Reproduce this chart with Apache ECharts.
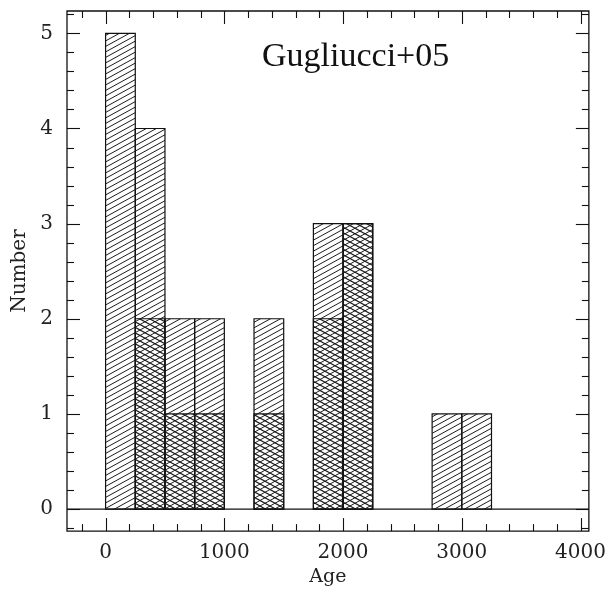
<!DOCTYPE html>
<html>
<head>
<meta charset="utf-8">
<script src="https://cdn.jsdelivr.net/npm/echarts@6/dist/echarts.min.js"></script>
<style>
  html, body { margin: 0; padding: 0; background: #fff; }
  #chart { width: 609px; height: 592px; }
</style>
</head>
<body>
<div id="chart"></div>
<script>
// Age histogram: all objects (single hatch) and subset (cross hatch)
const binStart = [0, 250, 500, 750, 1000, 1250, 1500, 1750, 2000, 2250, 2500, 2750, 3000];
const binWidth = 250;
const allCounts = [5, 4, 2, 2, 0, 2, 0, 3, 3, 0, 0, 1, 1];
const subsetCounts = [0, 2, 1, 1, 0, 1, 0, 2, 3, 0, 0, 0, 0];

// Tick values
const xTickMajor = [0, 1000, 2000, 3000, 4000];
const xTickMinor = [-200, 200, 400, 600, 800, 1200, 1400, 1600, 1800, 2200, 2400, 2600, 2800, 3200, 3400, 3600, 3800];
const yTickMajor = [0, 1, 2, 3, 4, 5];
const yTickMinor = [-0.2, 0.2, 0.4, 0.6, 0.8, 1.2, 1.4, 1.6, 1.8, 2.2, 2.4, 2.6, 2.8, 3.2, 3.4, 3.6, 3.8, 4.2, 4.4, 4.6, 4.8, 5.2];

const xRange = [-325, 4070];
const yRange = [-0.232, 5.235];

// Diagonal line tile; dir = 1 for "/" lines, -1 for "\" lines
function hatchTile(dir, width) {
  const w = 20, h = 11;
  const c = document.createElement('canvas');
  c.width = w; c.height = h;
  const g = c.getContext('2d');
  g.strokeStyle = '#1c1c1c';
  g.lineWidth = width;
  for (let k = -3; k <= 3; k++) {
    g.beginPath();
    if (dir > 0) {
      g.moveTo(-w, 2 * h + k * h / 2);
      g.lineTo(2 * w, -h + k * h / 2);
    } else {
      g.moveTo(-w, -h + k * h / 2);
      g.lineTo(2 * w, 2 * h + k * h / 2);
    }
    g.stroke();
  }
  return { image: c, repeat: 'repeat' };
}
const hatchUp = hatchTile(1, 1.0);
const hatchDown = hatchTile(-1, 1.15);

function barData(counts) {
  const out = [];
  counts.forEach((n, i) => {
    if (n > 0) out.push([binStart[i], binStart[i] + binWidth, n]);
  });
  return out;
}

function barRenderer(pattern) {
  return function (params, api) {
    const p0 = api.coord([api.value(0), api.value(2)]);
    const p1 = api.coord([api.value(1), 0]);
    return {
      type: 'rect',
      shape: { x: p0[0], y: p0[1], width: p1[0] - p0[0], height: p1[1] - p0[1] },
      style: { fill: pattern, stroke: '#111', lineWidth: 1.2 }
    };
  };
}

function tickRenderer(axis, len) {
  return function (params, api) {
    const cs = params.coordSys;
    const v = api.value(0);
    const st = { stroke: '#111', lineWidth: 1.1 };
    if (axis === 'x') {
      const px = Math.round(api.coord([v, 0])[0]) + 0.5;
      const b = cs.y + cs.height, t = cs.y;
      return { type: 'group', children: [
        { type: 'line', shape: { x1: px, y1: b, x2: px, y2: b - len }, style: st },
        { type: 'line', shape: { x1: px, y1: t, x2: px, y2: t + len }, style: st }
      ]};
    } else {
      const py = Math.round(api.coord([0, v])[1]) + 0.5;
      const l = cs.x, r = cs.x + cs.width;
      return { type: 'group', children: [
        { type: 'line', shape: { x1: l, y1: py, x2: l + len, y2: py }, style: st },
        { type: 'line', shape: { x1: r, y1: py, x2: r - len, y2: py }, style: st }
      ]};
    }
  };
}

function tickSeries(axis, values, len) {
  return {
    type: 'custom',
    silent: true,
    animation: false,
    clip: false,
    renderItem: tickRenderer(axis, len),
    data: values.map(v => [v]),
    encode: axis === 'x' ? { x: 0 } : { y: 0 },
    z: 10
  };
}

const labelFont = { fontFamily: 'DejaVu Serif', fontSize: 20, color: '#222' };
const plain = v => String(v);

const chart = echarts.init(document.getElementById('chart'), null, { renderer: 'canvas' });
chart.setOption({
  animation: false,
  backgroundColor: '#fff',
  grid: {
    left: 67, right: 19, top: 11, bottom: 59,
    show: true, borderColor: '#111', borderWidth: 1.3, backgroundColor: 'transparent'
  },
  xAxis: {
    type: 'value', min: xRange[0], max: xRange[1],
    axisLine: { show: false }, axisTick: { show: false }, splitLine: { show: false },
    axisLabel: Object.assign({ customValues: xTickMajor, margin: 12, formatter: plain }, labelFont),
    name: 'Age', nameLocation: 'middle', nameGap: 36,
    nameTextStyle: { fontFamily: 'DejaVu Serif', fontSize: 19, color: '#222' }
  },
  yAxis: {
    type: 'value', min: yRange[0], max: yRange[1],
    axisLine: { show: false }, axisTick: { show: false }, splitLine: { show: false },
    axisLabel: Object.assign({ customValues: yTickMajor, margin: 14, formatter: plain }, labelFont),
    name: 'Number', nameLocation: 'middle', nameGap: 35,
    nameTextStyle: { fontFamily: 'DejaVu Serif', fontSize: 20, color: '#222' }
  },
  graphic: [{
    type: 'text', left: 262, top: 40,
    style: { text: 'Gugliucci+05', font: '34px "Liberation Serif"', fill: '#111' }
  }],
  series: [
    {
      // zero level of the histogram across the whole frame
      type: 'line', silent: true, symbol: 'none',
      data: [[xRange[0], 0], [xRange[1], 0]],
      lineStyle: { color: '#111', width: 1.3 }, z: 3
    },
    {
      type: 'custom', silent: true, renderItem: barRenderer(hatchUp),
      data: barData(allCounts), encode: { x: [0, 1], y: 2 }, z: 4
    },
    {
      type: 'custom', silent: true, renderItem: barRenderer(hatchDown),
      data: barData(subsetCounts), encode: { x: [0, 1], y: 2 }, z: 5
    },
    tickSeries('x', xTickMinor, 7),
    tickSeries('x', xTickMajor, 13),
    tickSeries('y', yTickMinor, 7),
    tickSeries('y', yTickMajor, 13)
  ]
});
</script>
</body>
</html>
